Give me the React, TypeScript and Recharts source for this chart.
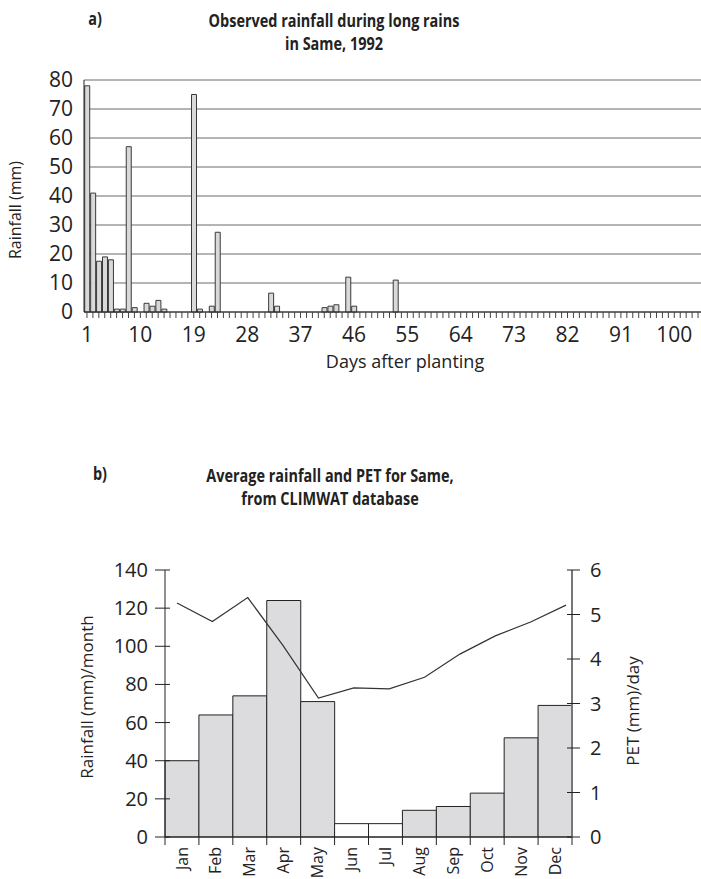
import React from "react";
import {
  ComposedChart,
  BarChart,
  Bar,
  Line,
  Cell,
  XAxis,
  YAxis,
  CartesianGrid,
} from "recharts";

// a) daily rainfall (mm), days 1..104 after planting
const days = Array.from({ length: 104 }, (_, i) => i + 1);
const dailyRain = [
  78, 41, 17.5, 19, 18, 1, 1, 57, 1.5, 0,
  3, 2, 4, 1, 0, 0, 0, 0, 75, 1,
  0, 2, 27.5, 0, 0, 0, 0, 0, 0, 0,
  0, 6.5, 2, 0, 0, 0, 0, 0, 0, 0,
  1.5, 2, 2.5, 0, 12, 2, 0, 0, 0, 0,
  0, 0, 11, 0, 0, 0, 0, 0, 0, 0,
  0, 0, 0, 0, 0, 0, 0, 0, 0, 0,
  0, 0, 0, 0, 0, 0, 0, 0, 0, 0,
  0, 0, 0, 0, 0, 0, 0, 0, 0, 0,
  0, 0, 0, 0, 0, 0, 0, 0, 0, 0,
  0, 0, 0, 0,
];
const dayLabels = [1, 10, 19, 28, 37, 46, 55, 64, 73, 82, 91, 100];
const rainTicks = [0, 10, 20, 30, 40, 50, 60, 70, 80];

// b) monthly averages, CLIMWAT
const months = ["Jan", "Feb", "Mar", "Apr", "May", "Jun", "Jul", "Aug", "Sep", "Oct", "Nov", "Dec"];
const monthlyRain = [40, 64, 74, 124, 71, 7, 7, 14, 16, 23, 52, 69];
const monthlyPet = [5.26, 4.84, 5.38, 4.3, 3.12, 3.35, 3.33, 3.59, 4.11, 4.52, 4.83, 5.21];
const monthRainTicks = [0, 20, 40, 60, 80, 100, 120, 140];
const petTicks = [0, 1, 2, 3, 4, 5, 6];

const dailyData = days.map((d, i) => ({ day: d, rain: dailyRain[i] }));
const monthlyData = months.map((m, i) => ({ month: m, i, rain: monthlyRain[i], pet: monthlyPet[i] }));

const REG = "'Open Sans', 'Noto Sans', sans-serif";
const INK = "#222";

// bottom chart layout
const B_W = 701;
const B_LEFT = 165;
const B_RIGHT = 129;
const BAND = (B_W - B_LEFT - B_RIGHT) / months.length;

function DayTick(props: any) {
  const { x, y, payload } = props;
  if (!dayLabels.includes(payload.value)) return <g />;
  return (
    <text x={x} y={y} dy="0.71em" textAnchor="middle" fontSize={21} fill={INK} fontFamily={REG}>
      {payload.value}
    </text>
  );
}

function MonthTick(props: any) {
  const { x, y, payload, index } = props;
  const left = x - BAND / 2;
  const right = x + BAND / 2;
  return (
    <g>
      <line x1={left} x2={left} y1={y} y2={y + 8} stroke={INK} />
      {index === months.length - 1 && <line x1={right} x2={right} y1={y} y2={y + 8} stroke={INK} />}
      <text
        x={x}
        y={y + 10}
        dy="0.35em"
        textAnchor="end"
        transform={`rotate(-90, ${x}, ${y + 10})`}
        fontSize={16}
        fill={INK}
        fontFamily={REG}
      >
        {payload.value}
      </text>
    </g>
  );
}

function LeftTick(props: any) {
  const { x, y, payload } = props;
  return (
    <g>
      <line x1={x - 10} x2={x + 5} y1={y} y2={y} stroke={INK} />
      <text x={x - 17} y={y} dy="0.35em" textAnchor="end" fontSize={20} fill={INK} fontFamily={REG}>
        {payload.value}
      </text>
    </g>
  );
}

function RightTick(props: any) {
  const { x, y, payload } = props;
  return (
    <g>
      <line x1={x - 5} x2={x + 8} y1={y} y2={y} stroke={INK} />
      <text x={x + 18} y={y} dy="0.35em" textAnchor="start" fontSize={20} fill={INK} fontFamily={REG}>
        {payload.value}
      </text>
    </g>
  );
}

const abs = (cx: number, cy: number, extra: React.CSSProperties = {}): React.CSSProperties => ({
  position: "absolute",
  left: cx,
  top: cy,
  transform: "translate(-50%, -50%)",
  whiteSpace: "nowrap",
  color: INK,
  ...extra,
});

const rot = (cx: number, cy: number, size: number): React.CSSProperties =>
  abs(cx, cy, { transform: "translate(-50%, -50%) rotate(-90deg)", fontFamily: REG, fontSize: size });

// condensed bold look for the titles
const titleStyle: React.CSSProperties = {
  fontFamily: "'Open Sans', sans-serif",
  fontWeight: 700,
  fontSize: 17,
  transform: "translate(-50%, -50%) scaleX(0.85)",
};

export default function App() {
  return (
    <div
      style={{
        position: "fixed",
        left: 0,
        top: 0,
        width: 701,
        height: 879,
        overflow: "hidden",
        background: "#fff",
      }}
    >
      {/* a) */}
      <div style={abs(95, 18, titleStyle)}>a)</div>
      <div style={abs(334, 20, titleStyle)}>Observed rainfall during long rains</div>
      <div style={abs(334, 43, titleStyle)}>in Same, 1992</div>

      <div style={{ position: "absolute", left: 0, top: 0 }}>
        <BarChart
          width={701}
          height={362}
          data={dailyData}
          margin={{ top: 80, right: 0, bottom: 0, left: 0 }}
          barCategoryGap="12%"
        >
          <CartesianGrid vertical={false} stroke="#6b6b6b" />
          <XAxis
            dataKey="day"
            type="category"
            interval={0}
            height={50}
            tickSize={6}
            tickMargin={9}
            tick={<DayTick />}
            tickLine={{ stroke: "#444" }}
            axisLine={{ stroke: INK }}
          />
          <YAxis
            width={84}
            domain={[0, 80]}
            ticks={rainTicks}
            interval={0}
            tickLine={false}
            tickSize={0}
            tickMargin={11}
            axisLine={{ stroke: INK }}
            tick={{ fontSize: 21, fill: INK, fontFamily: REG }}
          />
          <Bar dataKey="rain" fill="#d9d9d9" stroke="#3a3a3a" strokeWidth={1} isAnimationActive={false} />
        </BarChart>
      </div>
      <div style={rot(15, 210, 16)}>Rainfall (mm)</div>
      <div style={abs(405, 361, { fontFamily: REG, fontSize: 18 })}>Days after planting</div>

      {/* b) */}
      <div style={abs(100, 473, titleStyle)}>b)</div>
      <div style={abs(330, 475, titleStyle)}>Average rainfall and PET for Same,</div>
      <div style={abs(330, 498, titleStyle)}>from CLIMWAT database</div>

      <div style={{ position: "absolute", left: 0, top: 540 }}>
        <ComposedChart
          width={B_W}
          height={339}
          data={monthlyData}
          margin={{ top: 30, right: 0, bottom: 0, left: 0 }}
          barCategoryGap={0}
        >
          <XAxis
            xAxisId="m"
            dataKey="month"
            type="category"
            interval={0}
            height={42}
            tickLine={false}
            tickSize={0}
            tickMargin={0}
            tick={<MonthTick />}
            axisLine={{ stroke: INK }}
          />
          <XAxis
            xAxisId="l"
            dataKey="i"
            type="number"
            domain={[0, months.length - 1]}
            padding={{ left: 12, right: 6 }}
            height={0}
            hide
          />
          <YAxis
            yAxisId="left"
            width={B_LEFT}
            domain={[0, 140]}
            ticks={monthRainTicks}
            interval={0}
            tickLine={false}
            tickSize={0}
            tickMargin={0}
            tick={<LeftTick />}
            axisLine={{ stroke: INK }}
          />
          <YAxis
            yAxisId="right"
            orientation="right"
            width={B_RIGHT}
            domain={[0, 6]}
            ticks={petTicks}
            interval={0}
            tickLine={false}
            tickSize={0}
            tickMargin={0}
            tick={<RightTick />}
            axisLine={{ stroke: "#777", strokeWidth: 2 }}
          />
          <Bar
            xAxisId="m"
            yAxisId="left"
            dataKey="rain"
            stroke={INK}
            strokeWidth={1}
            isAnimationActive={false}
          >
            {monthlyData.map((d) => (
              <Cell key={d.month} fill={d.rain < 10 ? "#ffffff" : "#dcdcde"} />
            ))}
          </Bar>
          <Line
            xAxisId="l"
            yAxisId="right"
            dataKey="pet"
            stroke="#333"
            strokeWidth={1.2}
            dot={false}
            isAnimationActive={false}
          />
        </ComposedChart>
      </div>
      <div style={rot(86, 697, 17)}>Rainfall (mm)/month</div>
      <div style={rot(632, 711, 17)}>PET (mm)/day</div>
    </div>
  );
}
